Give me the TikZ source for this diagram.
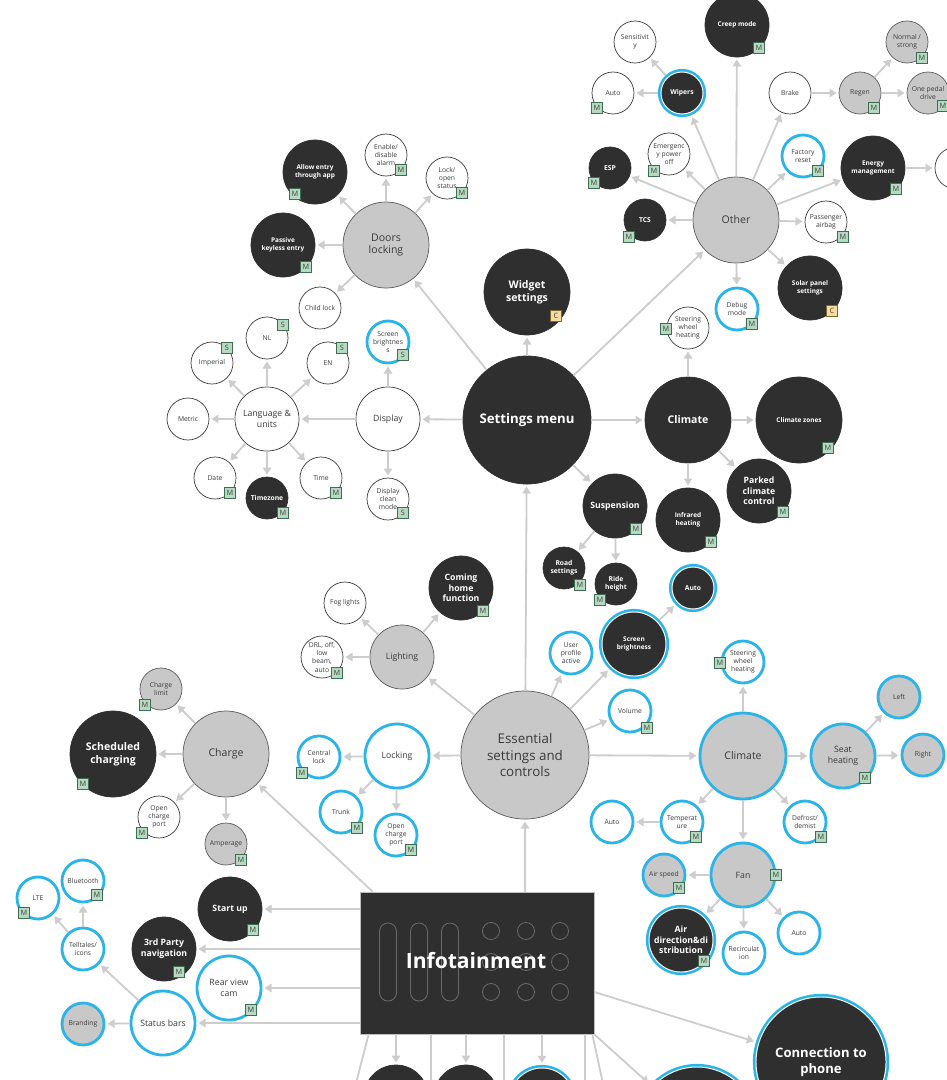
\documentclass[tikz,border=0pt]{standalone}
\usepackage{fontspec}
\setmainfont{Open Sans}
\usetikzlibrary{arrows.meta,calc}

\definecolor{ink}{HTML}{2F2F2F}
\definecolor{fillgray}{HTML}{C8C8C8}
\definecolor{rimgray}{HTML}{5A5A5A}
\definecolor{rimdark}{HTML}{3A3A3A}
\definecolor{ringblue}{HTML}{2AB4E8}
\definecolor{linkgray}{HTML}{CDCDCD}
\definecolor{tagfill}{HTML}{B5D9C1}
\definecolor{tagrim}{HTML}{3F6D52}
\definecolor{ctagfill}{HTML}{F6DB9C}
\definecolor{ctagrim}{HTML}{7C6631}
\definecolor{labelink}{HTML}{3A3A3A}
\definecolor{decogray}{HTML}{6A6A6A}

\tikzset{
  bub/.style={circle, inner sep=0pt, align=center, text=labelink},
  sm/.style={bub, minimum size=1.05cm, font=\fontsize{4.8}{5.9}\selectfont},
  md/.style={bub, minimum size=1.6cm, font=\fontsize{6.2}{7.6}\selectfont},
  lg/.style={bub, minimum size=2.15cm, font=\fontsize{7.5}{9.2}\selectfont},
  xl/.style={bub, minimum size=3.2cm},
  fine/.style={font=\fontsize{4.6}{5.7}\selectfont},
  wht/.style={fill=white, draw=rimdark, line width=0.5pt},
  gry/.style={fill=fillgray, draw=rimgray, line width=0.5pt},
  blk/.style={fill=ink, draw=ink, line width=0.5pt, text=white,
    execute at begin node=\bfseries},
  whtring/.style={fill=white, draw=ringblue, line width=2pt},
  gryring/.style={fill=fillgray, draw=ringblue, line width=2pt},
  blkring/.style={fill=ink, draw=white, line width=0.7pt, outer sep=2.2pt,
    text=white, execute at begin node=\bfseries,
    preaction={draw=ringblue, line width=4.4pt}},
  mtag/.style={rectangle, fill=tagfill, draw=tagrim, line width=0.5pt,
    minimum size=0.27cm, inner sep=0pt, font=\fontsize{5.2}{5.2}\selectfont,
    text=black!75},
  ctag/.style={mtag, fill=ctagfill, draw=ctagrim},
  arrowline/.style={draw=linkgray, line width=1.3pt,
    -{Triangle[length=5pt,width=6pt]}, shorten >=1.5pt},
  plainline/.style={draw=linkgray, line width=1.3pt},
  deco/.style={draw=decogray, line width=0.6pt},
}

\begin{document}
\begin{tikzpicture}[x=0.025cm,y=-0.025cm]
  \useasboundingbox (0,0) rectangle (947,1080);
  \clip (0,0) rectangle (947,1080);

  % other
  \node[md,blk,fine] (creep) at (737,25) {Creep mode};
  \node[sm,wht] (sens) at (635,42) {Sensitivit\\y};
  \node[sm,blkring] (wipers) at (682,93) {Wipers};
  \node[sm,wht] (wauto) at (613,93) {Auto};
  \node[sm,wht] (brake) at (790,93) {Brake};
  \node[sm,gry] (regen) at (860,93) {Regen};
  \node[sm,gry] (normal) at (907,42) {Normal /\\strong};
  \node[sm,gry] (onepedal) at (928,93) {One pedal\\drive};
  \node[sm,wht] (emerg) at (669,154) {Emergenc\\y power\\off};
  \node[sm,blk] (esp) at (610,168) {ESP};
  \node[sm,whtring] (factory) at (803,156) {Factory\\reset};
  \node[md,blk,fine] (energy) at (873,168) {Energy\\management};
  \node[sm,wht] (energynext) at (956,168) {};
  \node[sm,blk] (tcs) at (645,220) {TCS};
  \node[lg,gry] (other) at (736,220) {Other};
  \node[sm,wht] (airbag) at (826,222) {Passenger\\airbag};
  \node[md,blk,fine] (solar) at (810,288) {Solar panel\\settings};
  \node[sm,whtring] (debug) at (737,309) {Debug\\mode};

  % settings menu
  \node[lg,blk] (widget) at (527,292) {Widget\\settings};
  \node[xl,blk,font=\fontsize{9.4}{11}\selectfont] (settings) at (527,420) {Settings menu};
  \node[sm,wht] (sheat) at (688,328) {Steering\\wheel\\heating};
  \node[lg,blk] (sclimate) at (688,420) {Climate};
  \node[lg,blk,fine] (zones) at (799,420) {Climate zones};
  \node[md,blk] (susp) at (615,506) {Suspension};
  \node[md,blk,fine] (infrared) at (688,520) {Infrared\\heating};
  \node[md,blk] (parked) at (759,491) {Parked\\climate\\control};
  \node[sm,blk] (road) at (564,568) {Road\\settings};
  \node[sm,blk] (ride) at (616,584) {Ride\\height};

  % doors
  \node[md,blk,fine] (allow) at (315,172) {Allow entry\\through app};
  \node[sm,wht] (alarm) at (386,155) {Enable/\\disable\\alarm};
  \node[sm,wht] (lockst) at (447,178) {Lock/\\open\\status};
  \node[md,blk,fine] (keyless) at (283,245) {Passive\\keyless entry};
  \node[lg,gry] (doors) at (386,245) {Doors\\locking};
  \node[sm,wht] (child) at (320,308) {Child lock};

  % display
  \node[md,wht] (display) at (388,419) {Display};
  \node[sm,whtring] (dbright) at (388,342) {Screen\\brightnes\\s};
  \node[sm,wht] (dclean) at (388,499) {Display\\clean\\mode};
  \node[md,wht] (lang) at (267,419) {Language \&\\units};
  \node[sm,wht] (nl) at (267,338) {NL};
  \node[sm,wht] (imperial) at (212,363) {Imperial};
  \node[sm,wht] (en) at (328,363) {EN};
  \node[sm,wht] (metric) at (188,419) {Metric};
  \node[sm,wht] (date) at (215,478) {Date};
  \node[sm,blk] (tzone) at (267,498) {Timezone};
  \node[sm,wht] (time) at (321,478) {Time};

  % essential
  \node[xl,gry,font=\fontsize{9.5}{11.5}\selectfont] (ess) at (525,755) {Essential\\settings and\\controls};
  \node[md,gry] (lighting) at (402,657) {Lighting};
  \node[sm,wht] (fog) at (345,603) {Fog lights};
  \node[md,blk] (coming) at (461,588) {Coming\\home\\function};
  \node[sm,wht] (drl) at (322,657) {DRL, off,\\low\\beam,\\auto};
  \node[sm,whtring] (profile) at (571,653) {User\\profile\\active};
  \node[md,blkring,fine] (ebright) at (634,644) {Screen\\brightness};
  \node[sm,blkring] (bauto) at (693,588) {Auto};
  \node[sm,whtring] (volume) at (630,711) {Volume};
  \node[md,whtring] (locking) at (397,756) {Locking};
  \node[sm,whtring] (central) at (319,757) {Central\\lock};
  \node[sm,whtring] (trunk) at (341,812) {Trunk};
  \node[sm,whtring] (lport) at (396,835) {Open\\charge\\port};

  % charge
  \node[lg,gry] (charge) at (226,754) {Charge};
  \node[sm,gry] (climit) at (161,689) {Charge\\limit};
  \node[lg,blk] (sched) at (113,754) {Scheduled\\charging};
  \node[sm,wht] (cport) at (159,817) {Open\\charge\\port};
  \node[sm,gry] (amperage) at (226,844) {Amperage};

  % climate
  \node[lg,gryring] (climate) at (743,756) {Climate};
  \node[sm,whtring] (wheel) at (743,662) {Steering\\wheel\\heating};
  \node[md,gryring] (seat) at (843,756) {Seat\\heating};
  \node[sm,gryring] (left) at (899,697) {Left};
  \node[sm,gryring] (right) at (923,755) {Right};
  \node[sm,whtring] (temp) at (682,822) {Temperat\\ure};
  \node[sm,whtring] (tauto) at (612,822) {Auto};
  \node[sm,whtring] (defrost) at (805,822) {Defrost/\\demist};
  \node[md,gryring] (fan) at (743,875) {Fan};
  \node[sm,gryring] (airspeed) at (664,875) {Air speed};
  \node[md,blkring] (airdir) at (681,940) {Air\\direction\&di\\stribution};
  \node[sm,whtring] (recirc) at (744,953) {Recirculat\\ion};
  \node[sm,whtring] (fauto) at (799,933) {Auto};

  % infotainment
  \node[rectangle, fill=ink, draw=gray!50, line width=0.5pt,
    minimum width=5.85cm, minimum height=3.55cm] (info) at (477,963) {};
  \foreach \i in {388,419,450}
    \draw[deco, rounded corners=0.21cm] (\i-8.5,923) rectangle (\i+8.5,1001);
  \foreach \i in {491,526,560}
    \foreach \j in {931,962,992}
      \draw[deco] (\i,\j) circle (8.5);
  \node[text=white, font=\fontsize{15}{18}\selectfont\bfseries] (infolabel) at (476,961) {Infotainment};

  \node[md,blk] (startup) at (230,909) {Start up};
  \node[md,blk] (nav) at (164,949) {3rd Party\\navigation};
  \node[md,whtring] (rearcam) at (229,988) {Rear view\\cam};
  \node[md,whtring] (status) at (163,1023) {Status bars};
  \node[sm,gryring] (branding) at (83,1024) {Branding};
  \node[sm,whtring] (telltales) at (83,949) {Telltales/\\icons};
  \node[sm,whtring] (lte) at (38,898) {LTE};
  \node[sm,whtring] (bt) at (83,881) {Bluetooth};
  \node[bub,blkring,minimum size=3.25cm,font=\fontsize{9.3}{11.5}\selectfont] (phone) at (821,1062) {Connection to\\phone};
  \node[md,blk] (low1) at (396,1097) {};
  \node[md,blk] (low2) at (466,1097) {};
  \node[md,blkring] (low3) at (542,1100) {};
  \node[bub,blkring,minimum size=3cm] (low4) at (697,1127) {};
  \coordinate (dn1) at (431,1200);
  \coordinate (dn2) at (504,1200);
  \coordinate (dn3) at (585,1200);
  \coordinate (dnl) at (338,1153);
  \coordinate (dnr) at (614,1135);

  % connectors
  \foreach \t in {creep,wipers,emerg,esp,tcs,brake,factory,energy,airbag,solar,debug}
    \draw[arrowline] (other) -- (\t);
  \draw[arrowline] (wipers) -- (wauto);
  \draw[arrowline] (wipers) -- (sens);
  \draw[arrowline] (brake) -- (regen);
  \draw[arrowline] (regen) -- (normal);
  \draw[arrowline] (regen) -- (onepedal);
  \draw[arrowline] (energy) -- (energynext);

  \foreach \t in {widget,other,sclimate,susp,display,doors}
    \draw[arrowline] (settings) -- (\t);
  \foreach \t in {sheat,zones,infrared,parked}
    \draw[arrowline] (sclimate) -- (\t);
  \draw[arrowline] (susp) -- (road);
  \draw[arrowline] (susp) -- (ride);
  \foreach \t in {allow,alarm,lockst,keyless,child}
    \draw[arrowline] (doors) -- (\t);
  \foreach \t in {dbright,dclean,lang}
    \draw[arrowline] (display) -- (\t);
  \foreach \t in {nl,imperial,en,metric,date,tzone,time}
    \draw[arrowline] (lang) -- (\t);

  \foreach \t in {settings,lighting,profile,ebright,volume,locking,climate}
    \draw[arrowline] (ess) -- (\t);
  \foreach \t in {fog,coming,drl}
    \draw[arrowline] (lighting) -- (\t);
  \draw[arrowline] (ebright) -- (bauto);
  \foreach \t in {central,trunk,lport}
    \draw[arrowline] (locking) -- (\t);
  \foreach \t in {climit,sched,cport,amperage}
    \draw[arrowline] (charge) -- (\t);
  \foreach \t in {wheel,seat,temp,defrost,fan}
    \draw[arrowline] (climate) -- (\t);
  \draw[arrowline] (seat) -- (left);
  \draw[arrowline] (seat) -- (right);
  \draw[arrowline] (temp) -- (tauto);
  \foreach \t in {airspeed,airdir,recirc,fauto}
    \draw[arrowline] (fan) -- (\t);

  \draw[arrowline] (info.north -| ess) -- (ess);
  \draw[arrowline] ($(info.north west)+(13,0)$) -- (charge);
  \foreach \t in {startup,nav,rearcam,status}
    \draw[arrowline] (info.west |- \t) -- (\t);
  \draw[arrowline] (status) -- (branding);
  \draw[arrowline] (status) -- (telltales);
  \draw[arrowline] (telltales) -- (lte);
  \draw[arrowline] (telltales) -- (bt);
  \draw[arrowline] ($(info.east)+(0,29)$) -- (phone);
  \foreach \t in {low1,low2,low3}
    \draw[arrowline] (info.south -| \t) -- (\t);
  \draw[arrowline] (info.south east) -- (low4);
  \foreach \t in {dn1,dn2,dn3}
    \draw[plainline] (info.south -| \t) -- (\t);
  \draw[plainline] ($(info.south west)+(9,0)$) -- (dnl);
  \draw[plainline] ($(info.south east)+(-2,0)$) -- (dnr);

  % tags
  \node[mtag] (creep-m) at (759,48) {M};
  \node[mtag] (wauto-m) at (597,108) {M};
  \node[mtag] (regen-m) at (874,108) {M};
  \node[mtag] (normal-m) at (922,58) {M};
  \node[mtag] (onepedal-m) at (943,106) {M};
  \node[mtag] (emerg-m) at (654,171) {M};
  \node[mtag] (esp-m) at (594,183) {M};
  \node[mtag] (factory-m) at (818,171) {M};
  \node[mtag] (energy-m) at (896,189) {M};
  \node[mtag] (tcs-m) at (629,237) {M};
  \node[mtag] (airbag-m) at (843,237) {M};
  \node[ctag] (solar-c) at (832,311) {C};
  \node[mtag] (debug-m) at (752,324) {M};
  \node[ctag] (widget-c) at (556,316) {C};
  \node[mtag] (sheat-m) at (666,329) {M};
  \node[mtag] (zones-m) at (828,448) {M};
  \node[mtag] (susp-m) at (636,529) {M};
  \node[mtag] (infrared-m) at (711,542) {M};
  \node[mtag] (parked-m) at (783,512) {M};
  \node[mtag] (road-m) at (580,585) {M};
  \node[mtag] (ride-m) at (600,600) {M};
  \node[mtag] (allow-m) at (295,194) {M};
  \node[mtag] (alarm-m) at (401,170) {M};
  \node[mtag] (lockst-m) at (462,193) {M};
  \node[mtag] (keyless-m) at (306,267) {M};
  \node[mtag] (nl-s) at (283,325) {S};
  \node[mtag] (imperial-s) at (227,348) {S};
  \node[mtag] (en-s) at (342,348) {S};
  \node[mtag] (dbright-s) at (403,355) {S};
  \node[mtag] (date-m) at (230,493) {M};
  \node[mtag] (tzone-m) at (283,513) {M};
  \node[mtag] (time-m) at (336,493) {M};
  \node[mtag] (dclean-s) at (403,513) {S};
  \node[mtag] (coming-m) at (483,611) {M};
  \node[mtag] (drl-m) at (337,673) {M};
  \node[mtag] (volume-m) at (647,728) {M};
  \node[mtag] (central-m) at (302,773) {M};
  \node[mtag] (trunk-m) at (357,828) {M};
  \node[mtag] (lport-m) at (411,850) {M};
  \node[mtag] (temp-m) at (696,837) {M};
  \node[mtag] (climit-m) at (145,705) {M};
  \node[mtag] (sched-m) at (83,784) {M};
  \node[mtag] (cport-m) at (142,833) {M};
  \node[mtag] (amperage-m) at (241,860) {M};
  \node[mtag] (wheel-m) at (720,663) {M};
  \node[mtag] (seat-m) at (865,778) {M};
  \node[mtag] (defrost-m) at (821,837) {M};
  \node[mtag] (fan-m) at (776,875) {M};
  \node[mtag] (airspeed-m) at (679,888) {M};
  \node[mtag] (airdir-m) at (704,961) {M};
  \node[mtag] (lte-m) at (24,913) {M};
  \node[mtag] (bt-m) at (97,895) {M};
  \node[mtag] (startup-m) at (253,930) {M};
  \node[mtag] (nav-m) at (179,972) {M};
  \node[mtag] (rearcam-m) at (251,1010) {M};
\end{tikzpicture}
\end{document}
